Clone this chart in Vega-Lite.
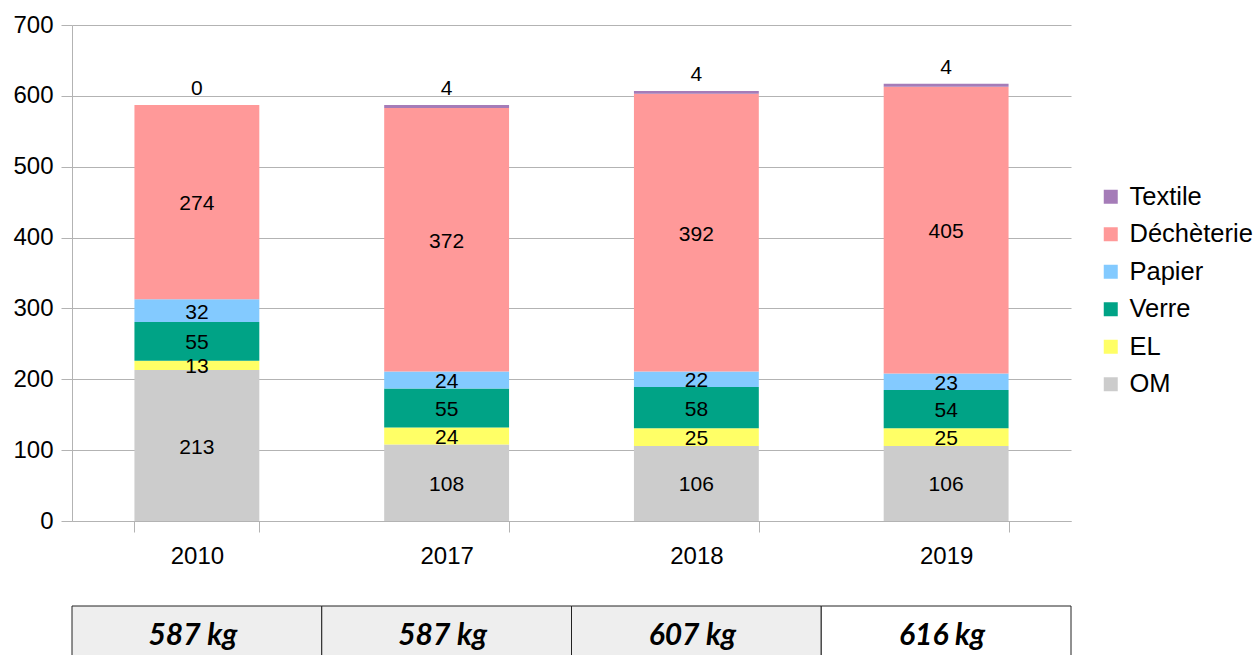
{
  "$schema": "https://vega.github.io/schema/vega-lite/v6.json",
  "padding": {"left": 12, "top": 13, "right": 0, "bottom": 0},
  "config": {
    "font": "Liberation Sans",
    "view": {"stroke": null},
    "concat": {"spacing": 37}
  },
  "datasets": {
    "waste": [
      {"year": "2010", "cat": "OM", "order": 1, "value": 213},
      {"year": "2010", "cat": "EL", "order": 2, "value": 13},
      {"year": "2010", "cat": "Verre", "order": 3, "value": 55},
      {"year": "2010", "cat": "Papier", "order": 4, "value": 32},
      {"year": "2010", "cat": "Déchèterie", "order": 5, "value": 274},
      {"year": "2010", "cat": "Textile", "order": 6, "value": 0},
      {"year": "2017", "cat": "OM", "order": 1, "value": 108},
      {"year": "2017", "cat": "EL", "order": 2, "value": 24},
      {"year": "2017", "cat": "Verre", "order": 3, "value": 55},
      {"year": "2017", "cat": "Papier", "order": 4, "value": 24},
      {"year": "2017", "cat": "Déchèterie", "order": 5, "value": 372},
      {"year": "2017", "cat": "Textile", "order": 6, "value": 4},
      {"year": "2018", "cat": "OM", "order": 1, "value": 106},
      {"year": "2018", "cat": "EL", "order": 2, "value": 25},
      {"year": "2018", "cat": "Verre", "order": 3, "value": 58},
      {"year": "2018", "cat": "Papier", "order": 4, "value": 22},
      {"year": "2018", "cat": "Déchèterie", "order": 5, "value": 392},
      {"year": "2018", "cat": "Textile", "order": 6, "value": 4},
      {"year": "2019", "cat": "OM", "order": 1, "value": 106},
      {"year": "2019", "cat": "EL", "order": 2, "value": 25},
      {"year": "2019", "cat": "Verre", "order": 3, "value": 54},
      {"year": "2019", "cat": "Papier", "order": 4, "value": 23},
      {"year": "2019", "cat": "Déchèterie", "order": 5, "value": 405},
      {"year": "2019", "cat": "Textile", "order": 6, "value": 4}
    ],
    "totals": [
      {"year": "2010", "total": "587 kg"},
      {"year": "2017", "total": "587 kg"},
      {"year": "2018", "total": "607 kg"},
      {"year": "2019", "total": "616 kg"}
    ]
  },
  "vconcat": [
    {
      "width": 999,
      "height": 496,
      "data": {"name": "waste"},
      "encoding": {
        "x": {
          "field": "year",
          "type": "ordinal",
          "scale": {"paddingInner": 0.5, "paddingOuter": 0.25},
          "axis": {
            "title": null,
            "labelAngle": 0,
            "tickBand": "extent",
            "tickSize": 11,
            "labelFontSize": 24,
            "labelPadding": 12,
            "labelColor": "#000000",
            "domainColor": "#b3b3b3",
            "tickColor": "#b3b3b3"
          }
        }
      },
      "layer": [
        {
          "mark": {"type": "bar"},
          "encoding": {
            "y": {
              "field": "value",
              "type": "quantitative",
              "stack": "zero",
              "scale": {"domain": [0, 700], "nice": false},
              "axis": {
                "title": null,
                "values": [0, 100, 200, 300, 400, 500, 600, 700],
                "grid": true,
                "gridColor": "#b3b3b3",
                "domainColor": "#b3b3b3",
                "tickColor": "#b3b3b3",
                "tickSize": 11,
                "labelFontSize": 24,
                "labelPadding": 8,
                "labelColor": "#000000"
              }
            },
            "color": {
              "field": "cat",
              "type": "nominal",
              "scale": {
                "domain": ["Textile", "Déchèterie", "Papier", "Verre", "EL", "OM"],
                "range": ["#a57cb8", "#ff9999", "#83caff", "#00a386", "#ffff66", "#cccccc"]
              },
              "legend": {
                "title": null,
                "orient": "none",
                "legendX": 1026,
                "legendY": 159,
                "symbolType": "square",
                "symbolSize": 196,
                "symbolStrokeWidth": 0,
                "labelFontSize": 25.5,
                "labelColor": "#000000",
                "rowPadding": 10.5,
                "labelOffset": 6
              }
            },
            "order": {"field": "order", "type": "quantitative"}
          }
        },
        {
          "mark": {"type": "text", "fontSize": 21, "color": "#000000", "dy": 2},
          "encoding": {
            "y": {"field": "value", "type": "quantitative", "stack": "zero", "bandPosition": 0.5},
            "detail": {"field": "cat", "type": "nominal"},
            "order": {"field": "order", "type": "quantitative"},
            "text": {
              "condition": {"test": "datum.cat !== 'Textile'", "field": "value", "type": "quantitative"},
              "value": ""
            }
          }
        },
        {
          "mark": {"type": "text", "fontSize": 21, "color": "#000000", "dy": -16},
          "encoding": {
            "y": {"field": "value", "type": "quantitative", "stack": "zero"},
            "detail": {"field": "cat", "type": "nominal"},
            "order": {"field": "order", "type": "quantitative"},
            "text": {
              "condition": {"test": "datum.cat === 'Textile'", "field": "value", "type": "quantitative"},
              "value": ""
            }
          }
        }
      ]
    },
    {
      "width": 999,
      "height": 50,
      "data": {"name": "totals"},
      "encoding": {
        "x": {
          "field": "year",
          "type": "ordinal",
          "scale": {"paddingInner": 0, "paddingOuter": 0},
          "axis": null
        }
      },
      "layer": [
        {
          "mark": {"type": "rect", "stroke": "#222222", "strokeWidth": 1},
          "encoding": {
            "fill": {
              "condition": {"test": "datum.year === '2019'", "value": "#ffffff"},
              "value": "#eeeeee"
            }
          }
        },
        {
          "mark": {
            "type": "text",
            "font": "Lato",
            "fontStyle": "italic",
            "fontWeight": "bold",
            "fontSize": 30,
            "dy": 5,
            "dx": -4,
            "color": "#000000"
          },
          "encoding": {"text": {"field": "total", "type": "nominal"}}
        }
      ]
    }
  ]
}
